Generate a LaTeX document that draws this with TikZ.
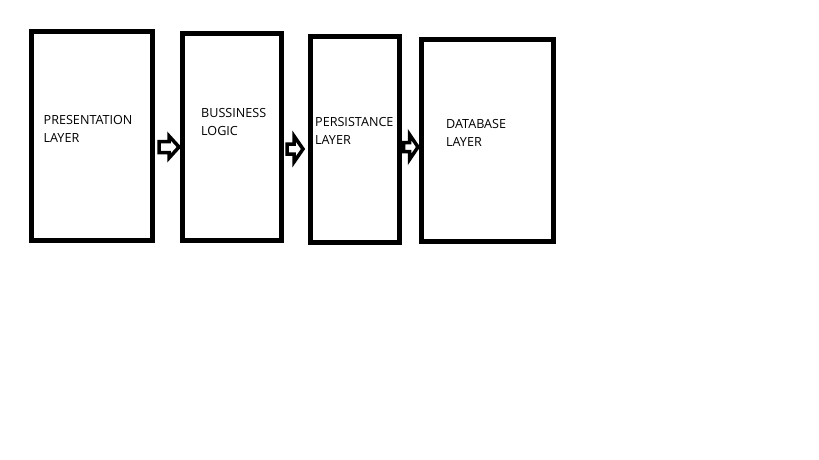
\documentclass[tikz,border=0pt]{standalone}
\usepackage{fontspec}
\setmainfont{Open Sans}
\begin{document}
\begin{tikzpicture}[x=1pt,y=-1pt,
  box/.style={draw=black, line width=5pt, fill=white, inner sep=0pt},
  barrow/.style={draw=black, line width=3.5pt, fill=white, line join=miter},
  lbl/.style={anchor=base west, inner sep=0pt, align=left,
    font=\fontsize{12.6}{18}\selectfont, text=black}]
\useasboundingbox (0,0) rectangle (819,460);
\fill[white] (0,0) rectangle (819,460);
% boxes
\node[box, minimum width=121pt, minimum height=208.5pt] (b1) at (91.5,135.75) {};
\node[box, minimum width=98.5pt, minimum height=206.5pt] (b2) at (231.75,136.75) {};
\node[box, minimum width=89pt, minimum height=206pt] (b3) at (354.5,139.5) {};
\node[box, minimum width=132pt, minimum height=201.5pt] (b4) at (487.5,140.75) {};
% labels
\node[lbl] (t1) at (43.5,142) {PRESENTATION\\LAYER};
\node[lbl] (t2) at (201,135.5) {BUSSINESS\\LOGIC};
\node[lbl] (t3) at (315,144) {PERSISTANCE\\LAYER};
\node[lbl] (t4) at (446,146) {DATABASE\\LAYER};
% block arrows
\coordinate (a1) at (159,147);
\coordinate (a2) at (287,149);
\coordinate (a3) at (403.5,147);
\draw[barrow] (a1) ++(0,-5.5) -- ++(10,0) -- ++(0,-5.5) -- ++(10,11) -- ++(-10,11) -- ++(0,-5.5) -- ++(-10,0) -- cycle;
\draw[barrow] (a2) ++(0,-5) -- ++(7,0) -- ++(0,-8) -- ++(9,13) -- ++(-9,13) -- ++(0,-8) -- ++(-7,0) -- cycle;
\draw[barrow] (a3) ++(0,-4.5) -- ++(6,0) -- ++(0,-8) -- ++(8.5,12.5) -- ++(-8.5,12.5) -- ++(0,-8) -- ++(-6,0) -- cycle;
\end{tikzpicture}
\end{document}
